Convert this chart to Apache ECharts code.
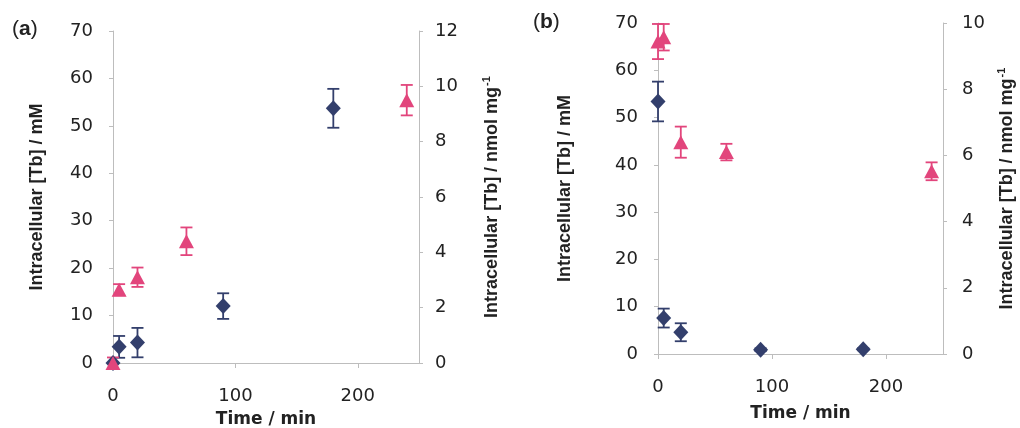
<!DOCTYPE html>
<html>
<head>
<meta charset="utf-8">
<script src="https://cdn.jsdelivr.net/npm/echarts@6/dist/echarts.min.js"></script>
<style>
html,body{margin:0;padding:0;background:#fff;}
#chart{width:1020px;height:428px;}
</style>
</head>
<body>
<div id="chart"></div>
<script>
// ---- Data ----
const xTicks = [0, 100, 200];
// Panel (a)
const aBlueTime = [0, 5, 20, 90, 180];
const aBlueVal  = [0, 3.4, 4.3, 12.0, 53.7];   // mM (left axis)
const aBlueErr  = [0, 2.3, 3.1, 2.7, 4.1];
const aPinkTime = [0, 5, 20, 60, 240];
const aPinkVal  = [0, 2.65, 3.1, 4.4, 9.5];    // nmol mg-1 (right axis)
const aPinkErr  = [0.2, 0.2, 0.35, 0.5, 0.55];
// Panel (b)
const bBlueTime = [0, 5, 20, 90, 180];
const bBlueVal  = [53.4, 7.6, 4.6, 0.9, 1.0];
const bBlueErr  = [4.2, 2.0, 1.9, 0.3, 0.2];
const bPinkTime = [0, 5, 20, 60, 240];
const bPinkVal  = [9.44, 9.57, 6.4, 6.1, 5.52];
const bPinkErr  = [0.53, 0.4, 0.47, 0.25, 0.27];

const BLUE = '#333f6c';
const PINK = '#e2457c';
const AXIS = '#bdbdbd';
const TXT = '#222';
const numFont = 'DejaVu Sans';

function zip(t, v, e) { return t.map((x, i) => [x, v[i], e[i]]); }

function errSeries(xi, yi, data, color) {
  return {
    type: 'custom', xAxisIndex: xi, yAxisIndex: yi, data: data, z: 3,
    renderItem: function (params, api) {
      const x = api.value(0), y = api.value(1), e = api.value(2);
      if (!e) return null;
      const top = api.coord([x, y + e]);
      const bot = api.coord([x, y - e]);
      const w = 6;
      const st = { stroke: color, lineWidth: 1.8 };
      return {
        type: 'group', children: [
          { type: 'line', shape: { x1: top[0], y1: top[1], x2: bot[0], y2: bot[1] }, style: st },
          { type: 'line', shape: { x1: top[0] - w, y1: top[1], x2: top[0] + w, y2: top[1] }, style: st },
          { type: 'line', shape: { x1: bot[0] - w, y1: bot[1], x2: bot[0] + w, y2: bot[1] }, style: st }
        ]
      };
    }
  };
}

function xAxis(gi, gap) {
  return {
    type: 'value', gridIndex: gi, min: 0, max: 250, interval: 100,
    name: 'Time / min', nameLocation: 'middle', nameGap: gap,
    nameTextStyle: { fontFamily: numFont, fontWeight: 'bold', fontSize: 17, color: TXT },
    axisLine: { show: true, lineStyle: { color: AXIS, width: 1 } },
    axisTick: { show: true, length: 5, lineStyle: { color: AXIS } },
    axisLabel: { fontFamily: numFont, fontSize: 18, color: TXT, margin: 24, showMaxLabel: false },
    splitLine: { show: false }
  };
}

function yLeft(gi, gap) {
  return {
    type: 'value', gridIndex: gi, position: 'left', min: 0, max: 70, interval: 10,
    name: 'Intracellular [Tb] / mM', nameLocation: 'middle', nameGap: gap, nameRotate: 90,
    nameTextStyle: { fontFamily: 'Liberation Sans', fontWeight: 'bold', fontSize: 18, color: TXT },
    axisLine: { show: true, lineStyle: { color: AXIS, width: 1 } },
    axisTick: { show: true, length: 4, lineStyle: { color: AXIS } },
    axisLabel: { fontFamily: numFont, fontSize: 18, color: TXT, margin: 20 },
    splitLine: { show: false }
  };
}

function yRight(gi, max, gap, margin) {
  return {
    type: 'value', gridIndex: gi, position: 'right', min: 0, max: max, interval: 2,
    name: 'Intracellular [Tb] / nmol mg{s|-1}', nameLocation: 'middle', nameGap: gap, nameRotate: 90,
    nameTextStyle: {
      fontFamily: 'Liberation Sans', fontWeight: 'bold', fontSize: 18, color: TXT,
      rich: { s: { fontFamily: 'Liberation Sans', fontWeight: 'bold', fontSize: 11, color: TXT, padding: [0, 0, 12, 1] } }
    },
    axisLine: { show: true, lineStyle: { color: AXIS, width: 1 } },
    axisTick: { show: true, length: 4, lineStyle: { color: AXIS } },
    axisLabel: { fontFamily: numFont, fontSize: 18, color: TXT, margin: margin },
    splitLine: { show: false }
  };
}

function scatter(xi, yi, t, v, color, symbol, size) {
  return {
    type: 'scatter', xAxisIndex: xi, yAxisIndex: yi, data: t.map((x, i) => [x, v[i]]),
    symbol: symbol, symbolSize: size, z: 4,
    itemStyle: { color: color, opacity: 1 }
  };
}

const chart = echarts.init(document.getElementById('chart'), null, { renderer: 'canvas' });
chart.setOption({
  animation: false,
  backgroundColor: '#fff',
  grid: [
    { left: 113, top: 31, width: 306, height: 332, containLabel: false, outerBoundsMode: 'none' },
    { left: 658, top: 23, width: 285, height: 331, containLabel: false, outerBoundsMode: 'none' }
  ],
  xAxis: [xAxis(0, 48), xAxis(1, 51)],
  yAxis: [yLeft(0, 67), yRight(0, 12, 62, 16), yLeft(1, 84), yRight(1, 10, 53, 19)],
  graphic: [
    { type: 'text', left: 12, top: 19, style: { text: '({b|a})', fontFamily: 'Liberation Sans', fontSize: 21, fill: TXT,
      rich: { b: { fontFamily: 'Liberation Sans', fontWeight: 'bold', fontSize: 21, fill: TXT } } } },
    { type: 'text', left: 533, top: 12, style: { text: '({b|b})', fontFamily: 'Liberation Sans', fontSize: 21, fill: TXT,
      rich: { b: { fontFamily: 'Liberation Sans', fontWeight: 'bold', fontSize: 21, fill: TXT } } } }
  ],
  series: [
    errSeries(0, 0, zip(aBlueTime, aBlueVal, aBlueErr), BLUE),
    scatter(0, 0, aBlueTime, aBlueVal, BLUE, 'diamond', [15, 16]),
    errSeries(0, 1, zip(aPinkTime, aPinkVal, aPinkErr), PINK),
    scatter(0, 1, aPinkTime, aPinkVal, PINK, 'triangle', [15, 14]),
    errSeries(1, 2, zip(bBlueTime, bBlueVal, bBlueErr), BLUE),
    scatter(1, 2, bBlueTime, bBlueVal, BLUE, 'diamond', [15, 16]),
    errSeries(1, 3, zip(bPinkTime, bPinkVal, bPinkErr), PINK),
    scatter(1, 3, bPinkTime, bPinkVal, PINK, 'triangle', [15, 14])
  ]
});
</script>
</body>
</html>
